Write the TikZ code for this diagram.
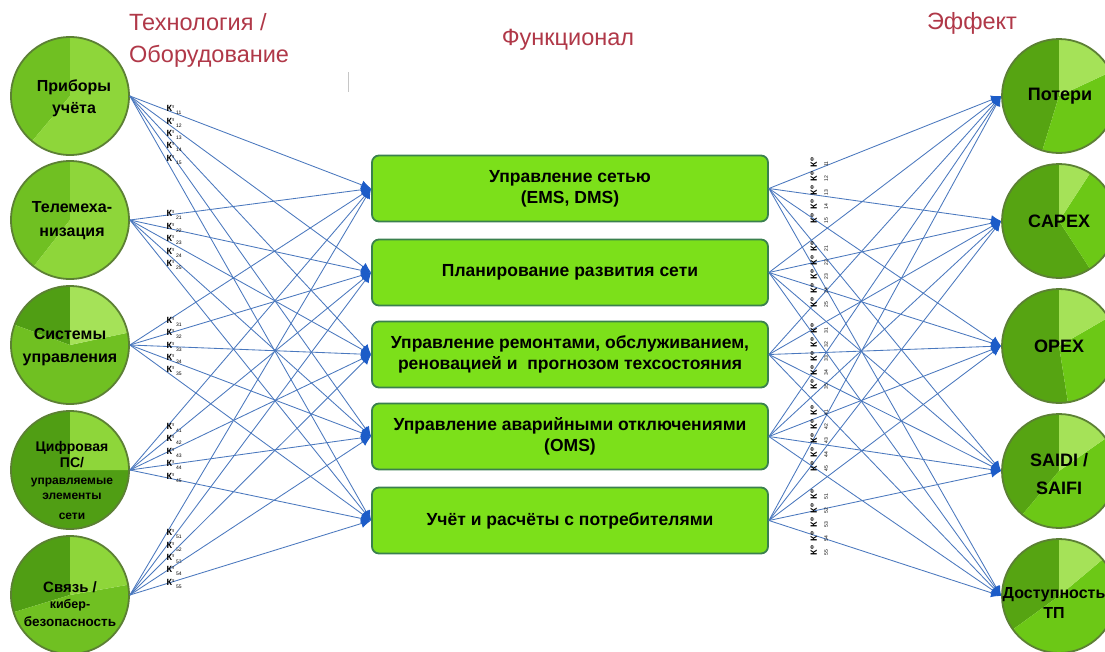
\documentclass[tikz,border=0pt]{standalone}
\usepackage{fontspec}
\setmainfont{Liberation Sans}
\usetikzlibrary{arrows.meta}

\definecolor{cDark}{RGB}{80,158,20}
\definecolor{cMid}{RGB}{112,192,34}
\definecolor{cLight}{RGB}{142,214,58}
\definecolor{cPale}{RGB}{165,226,88}
\definecolor{rDark}{RGB}{86,164,18}
\definecolor{rMid}{RGB}{108,200,22}
\definecolor{edgeG}{RGB}{92,128,52}
\definecolor{boxFill}{RGB}{124,224,26}
\definecolor{boxEdge}{RGB}{58,128,78}
\definecolor{wire}{RGB}{74,120,190}
\definecolor{tipB}{RGB}{28,92,200}
\definecolor{headRed}{RGB}{176,56,72}

% one pie sector: centre x, centre y, radius, start angle, end angle, colour
\newcommand{\piesect}[6]{%
  \begin{scope}[shift={(#1,#2)},yscale=-1]
    \fill[#6] (0,0) -- (#4:#3) arc[start angle=#4,end angle=#5,radius=#3] -- cycle;
  \end{scope}}

% small weight labels: K with an upper and a lower index
\newcommand{\kcoef}[2]{\textbf{К}\raisebox{3pt}{\fontsize{4.5}{4.5}\selectfont\bfseries #1}\hspace{2pt}\raisebox{-3pt}{\fontsize{5}{5}\selectfont #2}}
\newcommand{\kcoefr}[2]{\textbf{К}\rlap{\raisebox{3.5pt}{\fontsize{4.5}{4.5}\selectfont\bfseries #1}}\llap{\raisebox{-11pt}{\fontsize{5}{5}\selectfont #2}}}

\begin{document}
\begin{tikzpicture}[x=1pt,y=-1pt,
  tech/.style={circle, draw=edgeG, line width=1.8pt, minimum size=118pt, inner sep=0pt},
  eff/.style={circle, draw=edgeG, line width=1.8pt, minimum size=114pt, inner sep=0pt},
  ctext/.style={inner sep=0pt, align=center, text=black},
  func/.style={rectangle, rounded corners=7pt, draw=boxEdge, line width=1.8pt, fill=boxFill,
    minimum width=396pt, minimum height=66pt, inner sep=2pt, align=center,
    font=\bfseries\fontsize{17.5}{21}\selectfont},
  head/.style={text=headRed, font=\fontsize{23.5}{28}\selectfont, inner sep=0pt},
  conn/.style={draw=wire, line width=0.85pt, -{Latex[length=10pt,width=9pt,color=tipB]}},
  klab/.style={inner sep=0pt, font=\fontsize{9}{9}\selectfont, text=black},
]
\clip (0,0) rectangle (1105,651);
\fill[white] (0,0) rectangle (1105,651);

% --- pie fills of the technology circles
\piesect{70}{96}{59}{90}{230}{cMid}
\piesect{70}{96}{59}{230}{450}{cLight}
\piesect{70}{220}{59}{90}{232}{cMid}
\piesect{70}{220}{59}{232}{450}{cLight}
\piesect{70}{345}{59}{90}{160}{cDark}
\piesect{70}{345}{59}{160}{372}{cMid}
\piesect{70}{345}{59}{12}{90}{cPale}
\piesect{70}{470}{59}{90}{360}{cDark}
\piesect{70}{470}{59}{0}{90}{cLight}
\piesect{70}{595}{59}{90}{197}{cDark}
\piesect{70}{595}{59}{197}{370}{cMid}
\piesect{70}{595}{59}{10}{90}{cLight}

% --- pie fills of the effect circles
\piesect{1059}{96}{57}{90}{253}{rDark}
\piesect{1059}{96}{57}{253}{385}{rMid}
\piesect{1059}{96}{57}{25}{90}{cPale}
\piesect{1059}{221}{57}{90}{303}{rDark}
\piesect{1059}{221}{57}{303}{417}{rMid}
\piesect{1059}{221}{57}{57}{90}{cPale}
\piesect{1059}{346}{57}{90}{279}{rDark}
\piesect{1059}{346}{57}{279}{390}{rMid}
\piesect{1059}{346}{57}{30}{90}{cPale}
\piesect{1059}{471}{57}{90}{230}{rDark}
\piesect{1059}{471}{57}{230}{395}{rMid}
\piesect{1059}{471}{57}{35}{90}{cPale}
\piesect{1059}{596}{57}{90}{216}{rDark}
\piesect{1059}{596}{57}{216}{400}{rMid}
\piesect{1059}{596}{57}{40}{90}{cPale}

% --- column headings
\node[head, anchor=west] (hTech) at (129,22) {Технология /};
\node[head, anchor=west] (hEquip) at (129,56) {Оборудование};
\node[head] (hFunc) at (568,40) {Функционал};
\node[head] (hEff) at (972,23) {Эффект};
\draw[gray!45, line width=1pt] (348,72) -- (348,92);

% --- technology circles and their captions
\node[tech] (t1) at (70,96) {};
\node[tech] (t2) at (70,220) {};
\node[tech] (t3) at (70,345) {};
\node[tech] (t4) at (70,470) {};
\node[tech] (t5) at (70,595) {};
\node[ctext, font=\bfseries\fontsize{16}{22}\selectfont] (t1l) at (74,98) {Приборы\\учёта};
\node[ctext, font=\bfseries\fontsize{16}{24}\selectfont] (t2l) at (72,221) {Телемеха-\\низация};
\node[ctext, font=\bfseries\fontsize{16}{23}\selectfont] (t3l) at (70,347) {Системы\\управления};
\node[ctext, font=\bfseries\fontsize{12}{16}\selectfont] (t4l) at (72,480)
  {{\fontsize{14}{16}\selectfont Цифровая}\\[0pt]{\fontsize{14}{16}\selectfont ПС/}\\[1pt]управляемые\\[-1pt]элементы\\[4pt]сети};
\node[ctext, font=\bfseries\fontsize{13.5}{16}\selectfont] (t5l) at (70,604)
  {{\fontsize{15}{16}\selectfont Связь /}\\[0pt]{\fontsize{12.5}{14}\selectfont кибер-}\\[2pt]безопасность};

% --- functional blocks
\node[func] (f1) at (570,188.5) {Управление сетью\\(EMS, DMS)};
\node[func] (f2) at (570,272.5) {Планирование развития сети};
\node[func] (f3) at (570,354.5) {Управление ремонтами, обслуживанием,\\реновацией и~~прогнозом техсостояния};
\node[func] (f4) at (570,436.5) {Управление аварийными отключениями\\(OMS)};
\node[func] (f5) at (570,520.5) {Учёт и расчёты с потребителями};

% --- effect circles and their captions
\node[eff] (e1) at (1059,96) {};
\node[eff] (e2) at (1059,221) {};
\node[eff] (e3) at (1059,346) {};
\node[eff] (e4) at (1059,471) {};
\node[eff] (e5) at (1059,596) {};
\node[ctext, font=\bfseries\fontsize{18}{26}\selectfont] (e1l) at (1060,96) {Потери};
\node[ctext, font=\bfseries\fontsize{18}{26}\selectfont] (e2l) at (1059,221) {CAPEX};
\node[ctext, font=\bfseries\fontsize{18}{26}\selectfont] (e3l) at (1059,346) {OPEX};
\node[ctext, font=\bfseries\fontsize{18}{28}\selectfont] (e4l) at (1059,474) {SAIDI /\\SAIFI};
\node[ctext, font=\bfseries\fontsize{16}{20}\selectfont] (e5l) at (1054,603) {Доступность\\ТП};

% --- technology -> function links with their weights
\foreach \i in {1,...,5}{
  \foreach \j in {1,...,5}{
    \draw[conn] (t\i.east) -- (f\j.west)
      node[klab, pos=0.15, anchor=west] {\kcoef{т}{\i\j}};
  }
}

% --- function -> effect links
\foreach \i in {1,...,5}{
  \foreach \j in {1,...,5}{
    \draw[conn] (f\i.east) -- (e\j.west);
  }
}

% --- weights of the function -> effect links
\foreach \i in {1,...,5}{
  \foreach \k in {0,...,4}{
    \pgfmathtruncatemacro{\kk}{\k+1}
    \node[klab, rotate=90] (w\i\kk) at ([shift={(50,{-24+14*\k})}]f\i.east) {\kcoefr{ф}{\i\kk}};
  }
}
\end{tikzpicture}
\end{document}
